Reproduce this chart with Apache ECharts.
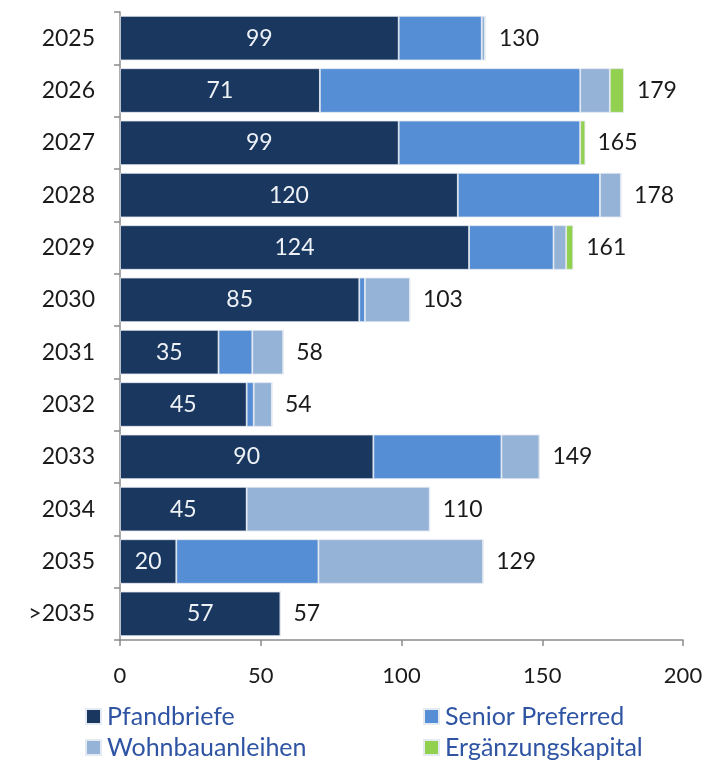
<!DOCTYPE html>
<html>
<head>
<meta charset="utf-8">
<script src="https://cdn.jsdelivr.net/npm/echarts@6/dist/echarts.min.js"></script>
<style>
  html, body { margin: 0; padding: 0; background: #fff; }
  #main { width: 710px; height: 760px; }
</style>
</head>
<body>
<div id="main"></div>
<script>
// Jahre (Fälligkeiten)
var years = ['2025', '2026', '2027', '2028', '2029', '2030', '2031', '2032', '2033', '2034', '2035', '>2035'];
// Werte je Emissionsart
var pfandbriefe = [99, 71, 99, 120, 124, 85, 35, 45, 90, 45, 20, 57];
var seniorPreferred = [29.5, 92.5, 64.5, 50.5, 30, 2, 12, 2.5, 45.5, 0, 50.5, 0];
var wohnbau = [1.2, 10.5, 0, 7.5, 4.5, 16, 11, 6.5, 13.5, 65, 58.5, 0];
var ergaenzung = [0, 5, 1.8, 0, 2.5, 0, 0, 0, 0, 0, 0, 0];
// Summen (Beschriftung rechts)
var totals = [130, 179, 165, 178, 161, 103, 58, 54, 149, 110, 129, 57];

var font = 'Lato';
var border = { borderColor: '#e4eaf1', borderWidth: 0.8 };

function legendAt(name, left, top) {
  return {
    data: [name],
    left: left,
    top: top,
    itemWidth: 15,
    itemHeight: 15,
    itemGap: 0,
    icon: 'rect',
    textStyle: { color: '#2f54a3', fontSize: 25, fontFamily: font, padding: [0, 0, 0, 1] }
  };
}

var myChart = echarts.init(document.getElementById('main'));
myChart.setOption({
  animation: false,
  textStyle: { fontFamily: font },
  grid: { left: 120, right: 27, top: 12, bottom: 120 },
  legend: [
    legendAt('Pfandbriefe', 80, 699),
    legendAt('Senior Preferred', 418, 699),
    legendAt('Wohnbauanleihen', 80, 730),
    legendAt('Ergänzungskapital', 418, 730)
  ],
  xAxis: {
    type: 'value',
    min: 0,
    max: 200,
    interval: 50,
    axisLine: { show: true, lineStyle: { color: '#8c8c8c', width: 1.5 } },
    axisTick: { show: true, length: 6, lineStyle: { color: '#8c8c8c', width: 1.5 } },
    splitLine: { show: false },
    axisLabel: { color: '#1a1a1a', fontSize: 22, margin: 25 }
  },
  yAxis: {
    type: 'category',
    data: years,
    inverse: true,
    axisLine: { lineStyle: { color: '#8c8c8c', width: 1.5 } },
    axisTick: { show: true, length: 6, lineStyle: { color: '#8c8c8c', width: 1.5 } },
    axisLabel: { color: '#1a1a1a', fontSize: 23, margin: 25 }
  },
  series: [
    {
      name: 'Pfandbriefe',
      type: 'bar',
      stack: 'a',
      barCategoryGap: '15%',
      data: pfandbriefe,
      itemStyle: Object.assign({ color: '#19375f' }, border),
      label: { show: true, position: 'inside', color: '#eef2f7', fontSize: 23, fontFamily: font }
    },
    {
      name: 'Senior Preferred',
      type: 'bar',
      stack: 'a',
      data: seniorPreferred,
      itemStyle: Object.assign({ color: '#558ed5' }, border)
    },
    {
      name: 'Wohnbauanleihen',
      type: 'bar',
      stack: 'a',
      data: wohnbau,
      itemStyle: Object.assign({ color: '#95b3d7' }, border)
    },
    {
      name: 'Ergänzungskapital',
      type: 'bar',
      stack: 'a',
      data: ergaenzung,
      itemStyle: Object.assign({ color: '#92d050' }, border)
    },
    {
      name: 'Summe',
      type: 'bar',
      barGap: '-100%',
      z: 1,
      data: totals,
      itemStyle: { color: 'rgba(0,0,0,0)' },
      label: { show: true, position: 'right', distance: 13, color: '#1a1a1a', fontSize: 23, fontFamily: font },
      silent: true
    }
  ]
});
</script>
</body>
</html>
